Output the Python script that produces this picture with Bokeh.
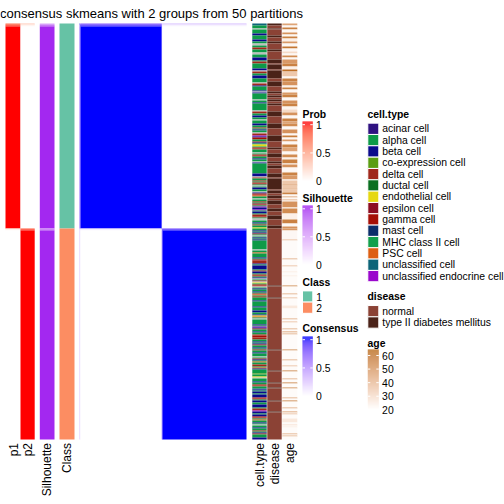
import numpy as np
from bokeh.plotting import figure
from bokeh.models import Range1d
from bokeh.core.properties import value
from bokeh.embed import file_html
from bokeh.resources import INLINE

# ---------------------------------------------------------------- data
title_text = "consensus skmeans with 2 groups from 50 partitions"

# samples in display order (top -> bottom), run-length encoded
class_runs = [(1, 205), (2, 211)]
p1_runs = [(0.70, 1), (0.88, 1), (0.95, 1), (1.0, 202), (0.18, 1), (0.05, 1), (0.0, 209)]
silhouette_runs = [(0.45, 1), (0.72, 1), (0.90, 1), (0.98, 202), (0.60, 1), (0.85, 1), (0.98, 209)]

cell_type_levels = ["acinar cell", "alpha cell", "beta cell", "co-expression cell", "delta cell",
                    "ductal cell", "endothelial cell", "epsilon cell", "gamma cell", "mast cell",
                    "MHC class II cell", "PSC cell", "unclassified cell", "unclassified endocrine cell"]
cell_type_colors = ["#2F1281", "#0E9A48", "#0A0A8C", "#5A9E12", "#A0281C", "#0A6F20", "#E6D812",
                    "#8C0E22", "#A50F06", "#0B2E6A", "#12A04C", "#DD5E12", "#0D6478", "#9A08CC"]
cell_type_codes = "aLBcDuEPGMHSTX"   # one code per level, N = not available
na_color = "#BEBEBE"
cell_type_rows = [
    "TTLLLNLLLL", "BBLLLLBBLL", "NNLLDDLLLN", "NLLLBBBLDD", "LLLLLBBNDD", "LLBBBLLLLN",
    "DDBLLLLBNB", "LLLLLLNLLB", "LLLLLLLNDD", "LLBBLLNLLL", "BBLLDLBLLN", "DDXBGGLLDB",
    "LEELGDLLLN", "LDGLLBLLNB", "LLLLLLLLLL", "BBBNDLLDLD", "GLNLBBLLNB", "DGSLLNLLGL",
    "PDLXBBXLBB", "LDDGLNNLLB", "LDLLELLBLB", "DLNLBLBLLL", "LLLLLLNLLS", "LLLLBLGDDD",
    "BLBBBBLDBB", "LDGLBNLDNE", "LGDNLBLLBL", "DSLGLLLBLL", "LLLBLLLBBL", "LBESLNLLLL",
    "LBLXBDLLBL", "LDGGDDLLBL", "BDLLBLDLLB", "LLLNLDBLSL", "LDDLSBLLLL", "cLLENLLLBL",
    "LGDLLTBLBB", "LBBBDGLBBL", "LBBBLDDXBB", "LBBGDLSLLB", "LNLLBLLDLB", "DLLLBB",
]

disease_levels = ["normal", "type II diabetes mellitus"]
disease_colors = ["#8B4235", "#4A2218"]
disease_runs = [
    (1, 2), (0, 3), (1, 1), (0, 6), (1, 2), (0, 4), (1, 2), (0, 6), (1, 2), (0, 8),
    (1, 4), (0, 1), (1, 5), (0, 1), (1, 8),
    (0, 3), (1, 5), (0, 5), (1, 2), (0, 2), (1, 2), (0, 2), (1, 2), (0, 2), (1, 2),
    (0, 6), (1, 5), (0, 7), (1, 5), (0, 7), (1, 6), (0, 6), (1, 2), (0, 4), (1, 4),
    (0, 4), (1, 2),
    (0, 2), (1, 3), (0, 5), (1, 4), (0, 1), (1, 11), (0, 1), (1, 3), (0, 2), (1, 3),
    (0, 2), (1, 4), (0, 4), (1, 3), (0, 4), (1, 4), (0, 6), (1, 3),
    (0, 57), (1, 1), (0, 11), (1, 1), (0, 51), (1, 1), (0, 20), (1, 1), (0, 11), (1, 1),
    (0, 4), (1, 1), (0, 12), (1, 1), (0, 10), (1, 1), (0, 27),
]

age_runs = [
    (45, 2), (22, 2), (55, 2), (22, 3), (50, 2), (22, 2), (55, 2), (24, 3), (48, 2), (22, 3),
    (58, 2), (22, 3), (30, 2), (22, 2), (52, 2), (22, 2), (48, 4), (55, 3), (24, 3), (60, 2),
    (35, 5), (22, 2), (55, 3), (50, 4), (24, 2), (55, 2), (22, 3), (48, 2), (55, 3), (22, 3),
    (50, 3), (55, 3), (23, 3), (30, 3), (50, 3), (22, 3), (55, 3), (45, 2), (52, 3), (22, 3),
    (50, 4), (22, 2), (56, 2), (22, 2), (48, 2), (22, 3), (55, 3), (45, 4), (22, 3), (52, 3),
    (24, 2), (55, 4),
    (22, 1), (50, 3), (22, 4), (24, 1), (55, 3), (48, 4), (22, 1), (35, 4), (50, 1), (35, 3),
    (45, 1), (35, 3), (55, 2), (22, 2), (50, 1), (22, 2), (45, 1), (22, 1), (50, 6), (22, 1),
    (52, 5), (24, 6), (55, 4), (22, 3), (50, 2),
    (48, 2), (22, 9), (40, 1), (21, 18), (45, 1), (21, 6), (40, 1), (21, 5), (26, 1), (21, 3),
    (26, 1), (21, 9), (55, 1), (21, 7), (45, 1), (21, 3), (40, 1), (21, 7), (26, 3), (21, 10),
    (45, 1), (21, 2), (40, 1), (21, 6), (45, 1), (21, 2), (50, 1), (21, 1), (45, 1), (21, 15),
    (55, 1), (21, 9), (45, 1), (21, 5), (40, 1), (21, 4), (58, 1), (21, 7), (45, 1), (21, 3),
    (58, 1), (21, 4), (55, 1), (21, 9), (45, 1), (21, 2), (58, 1), (21, 6), (45, 1), (21, 3),
    (50, 1), (21, 1), (40, 1), (21, 4), (26, 4), (21, 2), (30, 1), (21, 1), (26, 1), (21, 6),
    (45, 1), (21, 1), (42, 1), (21, 3),
]
age_range = [20, 63]
age_color = "#B86614"

class_labels = ["1", "2"]
class_colors = ["#66C2A5", "#FC8D62"]
prob_color = "#FF0000"
silhouette_color = "#A020F0"
consensus_color = "#0000FF"

unit_ticks = [0, 0.5, 1]
unit_tick_labels = ["0", "0.5", "1"]
age_ticks = [20, 30, 40, 50, 60]
age_tick_labels = ["20", "30", "40", "50", "60"]

bottom_labels = ["p1", "p2", "Silhouette", "Class", "cell.type", "disease", "age"]

# ---------------------------------------------------------------- helpers
_M = np.array([[0.4124564, 0.3575761, 0.1804375],
               [0.2126729, 0.7151522, 0.0721750],
               [0.0193339, 0.1191920, 0.9503041]])
_WP = np.array([0.95047, 1.0, 1.08883])


def hex2rgb(h):
    h = h.lstrip("#")
    return np.array([int(h[i:i + 2], 16) for i in (0, 2, 4)], dtype=float)


def rgb2lab(rgb):
    c = rgb / 255.0
    c = np.where(c <= 0.04045, c / 12.92, ((c + 0.055) / 1.055) ** 2.4)
    xyz = (_M @ c) / _WP
    d = 6 / 29
    f = np.where(xyz > d ** 3, np.cbrt(xyz), xyz / (3 * d * d) + 4 / 29)
    return np.array([116 * f[1] - 16, 500 * (f[0] - f[1]), 200 * (f[1] - f[2])])


def lab2hex(lab):
    L, a, b = lab
    fy = (L + 16) / 116
    f = np.array([fy + a / 500, fy, fy - b / 200])
    d = 6 / 29
    xyz = np.where(f > d, f ** 3, 3 * d * d * (f - 4 / 29)) * _WP
    c = np.clip(np.linalg.solve(_M, xyz), 0, 1)
    c = np.where(c <= 0.0031308, 12.92 * c, 1.055 * c ** (1 / 2.4) - 0.055)
    c = np.clip(c, 0, 1)
    return "#%02x%02x%02x" % tuple(int(round(v * 255)) for v in c)


def make_ramp(lo_hex, hi_hex, vmin=0.0, vmax=1.0):
    lo, hi = rgb2lab(hex2rgb(lo_hex)), rgb2lab(hex2rgb(hi_hex))
    cache = {}

    def f(v):
        t = float(np.clip((v - vmin) / (vmax - vmin), 0, 1))
        k = round(t, 4)
        if k not in cache:
            cache[k] = lab2hex(lo + (hi - lo) * k)
        return cache[k]
    return f


def expand(runs):
    out = []
    for v, n in runs:
        out += [v] * n
    return out


def runs_of(colors):
    res, s = [], 0
    for i in range(1, len(colors) + 1):
        if i == len(colors) or colors[i] != colors[s]:
            res.append((s, i, colors[s]))
            s = i
    return res


# ---------------------------------------------------------------- derived
classes = expand(class_runs)
N = len(classes)
p1 = np.array(expand(p1_runs), dtype=float)
p2 = 1.0 - p1
sil = expand(silhouette_runs)
ct_map = {c: col for c, col in zip(cell_type_codes, cell_type_colors)}
cell_types = [ct_map.get(c, na_color) for c in "".join(cell_type_rows)]
disease = expand(disease_runs)
age = expand(age_runs)

prob_ramp = make_ramp("#FFFFFF", prob_color)
sil_ramp = make_ramp("#FFFFFF", silhouette_color)
cons_ramp = make_ramp("#FFFFFF", consensus_color)
age_ramp = make_ramp("#FFFFFF", age_color, age_range[0], age_range[1])

# ---------------------------------------------------------------- layout
W, H = 504, 504
TOP, BOT = 23.0, 439.0          # heatmap body rows
HX0, HX1 = 79.0, 246.0          # consensus heatmap columns
cols_layout = {
    "p1": (5.0, 20.0), "p2": (20.0, 34.2), "Silhouette": (39.3, 54.0), "Class": (59.0, 74.0),
    "cell.type": (251.8, 266.2), "disease": (266.8, 281.2), "age": (281.8, 296.8),
}

p = figure(width=W, height=H, x_range=Range1d(0, W), y_range=Range1d(H, 0),
           output_backend="svg", toolbar_location=None, title=None,
           x_axis_location=None, y_axis_location=None, min_border=0)
p.grid.visible = False
p.outline_line_color = None
p.background_fill_color = "white"
p.border_fill_color = "white"

rs = (BOT - TOP) / N
cs = (HX1 - HX0) / N
p.extra_y_ranges = {"rows": Range1d(start=(H - TOP) / rs, end=(0 - TOP) / rs)}
p.extra_x_ranges = {"cols": Range1d(start=(0 - HX0) / cs, end=(W - HX0) / cs)}


def draw_column(name, colors):
    L, R = cols_layout[name]
    rr = runs_of(colors)
    p.quad(left=[L] * len(rr), right=[R] * len(rr), top=[r[0] for r in rr],
           bottom=[r[1] for r in rr], fill_color=[r[2] for r in rr], line_color=None,
           y_range_name="rows")


draw_column("p1", [prob_ramp(v) for v in p1])
draw_column("p2", [prob_ramp(v) for v in p2])
draw_column("Silhouette", [sil_ramp(v) for v in sil])
draw_column("Class", [class_colors[c - 1] for c in classes])
draw_column("cell.type", cell_types)
draw_column("disease", [disease_colors[d] for d in disease])
draw_column("age", [age_ramp(a) for a in age])

# consensus matrix from membership probabilities
P = np.stack([p1, p2], axis=1)
cons = P @ P.T
np.fill_diagonal(cons, 1.0)
row_sigs = [tuple(runs_of([cons_ramp(v) for v in cons[i]])) for i in range(N)]
bl, br, bt, bb, bc = [], [], [], [], []
s = 0
for i in range(1, N + 1):
    if i == N or row_sigs[i] != row_sigs[s]:
        for c0, c1, col in row_sigs[s]:
            bl.append(c0); br.append(c1); bt.append(s); bb.append(i); bc.append(col)
        s = i
p.quad(left=bl, right=br, top=bt, bottom=bb, fill_color=bc, line_color=None,
       x_range_name="cols", y_range_name="rows")

FONT = value("Liberation Sans")
LEG_FS = value("10.4px")

# title
p.text(x=[151], y=[12.5], text=[title_text], text_font=FONT, text_font_size=value("13px"),
       text_align="center", text_baseline="alphabetic", text_color="black")

# bottom (rotated) annotation names
name_x = [13.0, 27.3, 46.8, 66.7, 259.2, 274.2, 289.5]
p.text(x=name_x, y=[442.5] * len(name_x), text=bottom_labels, angle=np.pi / 2,
       text_font=FONT, text_font_size=value("12px"), text_align="right",
       text_baseline="middle", text_color="black")


def legend_title(x, y, t):
    p.text(x=[x], y=[y], text=[t], text_font=FONT, text_font_size=LEG_FS,
           text_font_style="bold", text_align="left", text_baseline="middle",
           text_color="black")


def legend_labels(x, ys, labels):
    p.text(x=[x] * len(ys), y=ys, text=labels, text_font=FONT, text_font_size=LEG_FS,
           text_align="left", text_baseline="middle", text_color="black")


def color_bar(x0, x1, y_at_min, px_per_unit, vmin, vmax, ramp, ticks, labels, pad=3):
    ytop = y_at_min - (vmax - vmin) * px_per_unit - pad
    ybot = y_at_min + pad
    ys = np.arange(np.floor(ytop), np.ceil(ybot))
    vals = vmin + (y_at_min - (ys + 0.5)) / px_per_unit
    cols = [ramp(v) for v in vals]
    p.quad(left=[x0] * len(ys), right=[x1] * len(ys), top=list(ys), bottom=list(ys + 1),
           fill_color=cols, line_color=None)
    ty = [y_at_min - (t - vmin) * px_per_unit for t in ticks]
    p.segment(x0=[x0] * len(ty) + [x1 - 2.5] * len(ty), x1=[x0 + 2.5] * len(ty) + [x1] * len(ty),
              y0=ty + ty, y1=ty + ty, line_color="white", line_width=1)
    legend_labels(x1 + 3.3, ty, labels)


def swatches(x0, x1, centers, h, colors, labels):
    p.quad(left=[x0] * len(centers), right=[x1] * len(centers),
           top=[c - h / 2 for c in centers], bottom=[c + h / 2 for c in centers],
           fill_color=colors, line_color="white", line_width=1)
    legend_labels(x1 + 3.5, centers, labels)


LX0, LX1 = 302.0, 312.3
legend_title(302, 114, "Prob")
color_bar(LX0, LX1, 180.7, 56.5, 0, 1, prob_ramp, unit_ticks, unit_tick_labels)
legend_title(302, 198, "Silhouette")
color_bar(LX0, LX1, 264.3, 56.0, 0, 1, sil_ramp, unit_ticks, unit_tick_labels)
legend_title(302, 282, "Class")
swatches(LX0, LX1, [296.0, 307.2], 11.2, class_colors, class_labels)
legend_title(302, 328, "Consensus")
color_bar(LX0, LX1, 395.7, 56.5, 0, 1, cons_ramp, unit_ticks, unit_tick_labels)

RX0, RX1 = 367.3, 378.3
legend_title(367, 114, "cell.type")
swatches(RX0, RX1, [128.3 + 11.33 * k for k in range(len(cell_type_levels))], 11.33,
         cell_type_colors, cell_type_levels)
legend_title(367, 296, "disease")
swatches(RX0, RX1, [310.7, 322.0], 11.33, disease_colors, disease_levels)
legend_title(367, 343.3, "age")
color_bar(RX0, RX1, 409.3, 1.357, age_range[0], age_range[1], age_ramp, age_ticks,
          age_tick_labels, pad=1.5)

open("out.html", "w").write(file_html(p, INLINE))
